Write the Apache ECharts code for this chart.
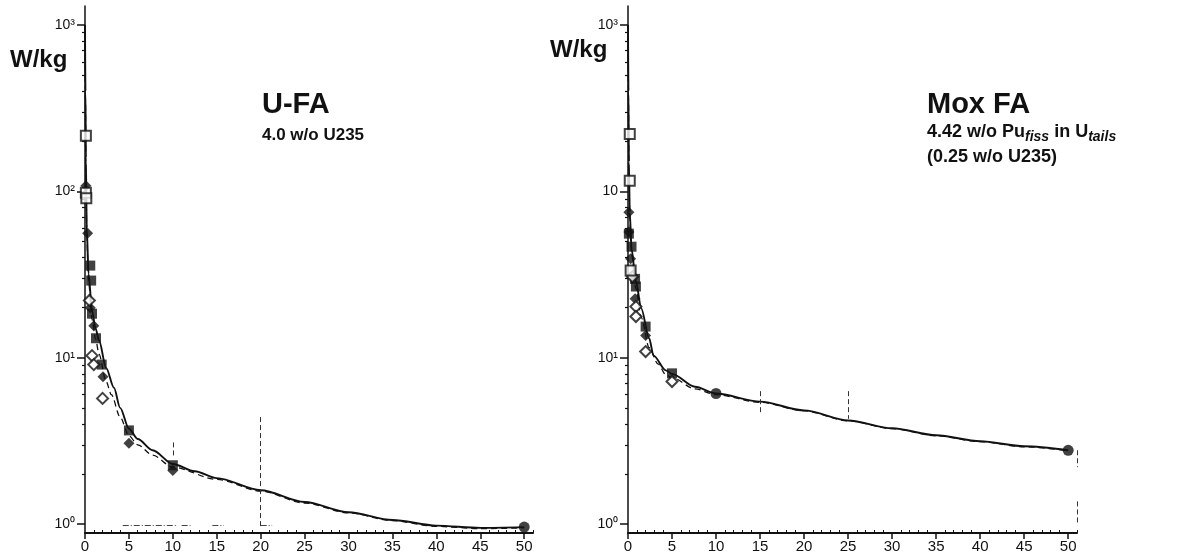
<!DOCTYPE html>
<html>
<head>
<meta charset="utf-8">
<script src="https://cdn.jsdelivr.net/npm/echarts@6/dist/echarts.min.js"></script>
<style>
html,body{margin:0;padding:0;background:#fff;}
#chart{width:1194px;height:557px;}
</style>
</head>
<body>
<div id="chart"></div>
<script>
// ---------- data ----------
const xTickValues = [0, 5, 10, 15, 20, 25, 30, 35, 40, 45, 50];
const xMinorValues = [1,2,3,4,6,7,8,9,11,12,13,14,16,17,18,19,21,22,23,24,26,27,28,29,31,32,33,34,36,37,38,39,41,42,43,44,46,47,48,49,51];
const yMajorValues = [1, 10, 100, 1000];
const yMinorValues = [2,3,4,5,6,7,8,9,20,30,40,50,60,70,80,90,200,300,400,500,600,700,800,900];
const yLabelsLeft = ['10⁰', '10¹', '10²', '10³'];
const yLabelsRight = ['10⁰', '10¹', '10', '10³'];

// U-FA (left)
const leftSolid = [[0,1000],[0.05,400],[0.1,160],[0.2,60],[0.4,32],[0.8,19.2],[1.2,15],[1.6,12.7],[2.4,8.7],[3.3,6.6],[4,5.0],[5,3.75],[6,3.25],[7.7,2.78],[10,2.3],[12.5,2.08],[15,1.89],[20,1.6],[25,1.36],[30,1.18],[35,1.06],[40,0.98],[45,0.95],[50,0.96]];
const leftDashed = [[0,1000],[0.05,350],[0.1,140],[0.2,55],[0.4,29],[0.8,17],[1.2,13],[1.6,10.5],[2.4,7.2],[3,6.0],[4,4.4],[5,3.4],[6,3.0],[7.7,2.6],[10,2.2],[15,1.86],[20,1.58],[25,1.34],[30,1.17],[35,1.05],[40,0.97],[45,0.94],[50,0.95]];
const leftFilledSquares = [[0.6,35.8],[0.7,29.1],[0.8,18.4],[1.25,13.1],[1.9,9.1],[5,3.66],[10,2.26]];
const leftFilledDiamonds = [[0.1,108],[0.3,56],[0.6,20],[1.0,15.6],[2.05,7.7],[5,3.06],[10,2.1]];
const leftOpenDiamonds = [[0.5,22.1],[0.8,10.3],[1.0,9.1],[2.0,5.7]];
const leftOpenSquares = [[0.1,216],[0.1,98],[0.15,91]];
const leftCircles = [[50,0.96]];
const leftVLines = [[20,4.4,0.95],[10,3.1,2.5]];
const leftHLines = [[4.3,10.5,0.99],[11,12,0.99],[14.5,15.8,0.99],[20,21.3,0.99]];

// Mox FA (right)
const rightSolid = [[0,1000],[0.05,400],[0.1,150],[0.2,75],[0.4,45],[0.9,28.7],[1.5,19.8],[2.4,13.1],[2.9,10.3],[4.3,8.4],[5,8.0],[7.6,6.7],[10,6.1],[15,5.45],[20,4.83],[25,4.2],[30,3.77],[35,3.42],[40,3.15],[45,2.94],[50,2.78]];
const rightDashed = [[0,1000],[0.05,380],[0.1,140],[0.2,70],[0.4,42],[0.9,26],[1.5,17.5],[2.4,11.5],[3.4,9.2],[4.3,7.9],[5,7.6],[7.6,6.5],[10,6.0],[15,5.4],[20,4.8],[25,4.18],[30,3.75],[35,3.4],[40,3.13],[45,2.92],[50,2.76]];
const rightFilledSquares = [[0.1,55.7],[0.4,46.5],[0.8,29.8],[0.9,26.8],[2.0,15.4],[5,8.06]];
const rightFilledDiamonds = [[0.1,75],[0.1,57],[0.3,39.3],[0.8,22.6],[2.0,13.6]];
const rightOpenDiamonds = [[0.5,30.7],[0.9,20.3],[0.9,17.7],[2.0,10.9],[5,7.2]];
const rightOpenSquares = [[0.2,221],[0.2,116],[0.3,33.4]];
const rightCircles = [[10,6.1],[50,2.78]];
const rightVLines = [[15,6.3,4.6],[25,6.3,4.3],[51,2.78,2.2],[51,1.37,0.99]];

// ---------- chart ----------
const INK = '#111';
const FONT = '"Liberation Sans", Arial, sans-serif';
const Y_MIN = 0.885, Y_MAX = 1300;
const grids = [
  {left: 85, top: 6, width: 448, height: 527},
  {left: 628, top: 6, width: 449, height: 527}
];

function xAxes(gi) {
  return [
    {
      type: 'value', gridIndex: gi, min: 0, max: 51, position: 'bottom',
      axisLine: {show: true, lineStyle: {color: INK, width: 2}},
      axisTick: {show: true, customValues: xTickValues, length: 6, lineStyle: {color: INK, width: 1.5}},
      axisLabel: {customValues: xTickValues, color: INK, fontSize: 15, fontFamily: FONT, margin: 6},
      splitLine: {show: false}
    },
    {
      type: 'value', gridIndex: gi, min: 0, max: 51, position: 'bottom',
      axisLine: {show: false},
      axisTick: {show: true, inside: true, customValues: xMinorValues, length: 3, lineStyle: {color: INK, width: 1}},
      axisLabel: {show: false},
      splitLine: {show: false}
    }
  ];
}
function yAxes(gi, labels) {
  return [
    {
      type: 'log', gridIndex: gi, min: Y_MIN, max: Y_MAX, logBase: 10, position: 'left',
      axisLine: {show: true, lineStyle: {color: INK, width: 1.5}},
      axisTick: {show: true, customValues: yMajorValues, length: 8, lineStyle: {color: INK, width: 1.5}},
      axisLabel: {
        customValues: yMajorValues, color: INK, fontSize: 14, fontFamily: FONT, margin: 10,
        formatter: function (v) { return labels[Math.round(Math.log10(v))]; }
      },
      splitLine: {show: false}
    },
    {
      type: 'log', gridIndex: gi, min: Y_MIN, max: Y_MAX, logBase: 10, position: 'left',
      axisLine: {show: false},
      axisTick: {show: true, customValues: yMinorValues, length: 3, lineStyle: {color: INK, width: 1.2}},
      axisLabel: {show: false},
      splitLine: {show: false}
    }
  ];
}

function lineSeries(gi, data, dashed) {
  return {
    type: 'line', xAxisIndex: gi * 2, yAxisIndex: gi * 2, data: data,
    smooth: 0.3, smoothMonotone: 'x', showSymbol: false, symbol: 'none',
    lineStyle: {color: INK, width: dashed ? 1.3 : 1.9, type: dashed ? [6, 4] : 'solid'},
    silent: true, z: 3
  };
}
function scatter(gi, data, symbol, filled, size) {
  return {
    type: 'scatter', xAxisIndex: gi * 2, yAxisIndex: gi * 2, data: data,
    symbol: symbol, symbolSize: size || 10,
    itemStyle: filled ? {color: INK} : {color: '#fff', borderColor: INK, borderWidth: 2},
    silent: true, z: 4
  };
}
function vlines(gi, arr) {
  return {
    type: 'line', xAxisIndex: gi * 2, yAxisIndex: gi * 2, data: [],
    markLine: {
      silent: true, symbol: 'none', label: {show: false},
      lineStyle: {color: '#333', width: 1, type: [5, 3]},
      data: arr.map(function (d) { return [{coord: [d[0], d[1]]}, {coord: [d[0], d[2]]}]; })
    }
  };
}
function hlines(gi, arr) {
  return {
    type: 'line', xAxisIndex: gi * 2, yAxisIndex: gi * 2, data: [],
    markLine: {
      silent: true, symbol: 'none', label: {show: false},
      lineStyle: {color: '#444', width: 1, type: [6, 2, 1, 2]},
      data: arr.map(function (d) { return [{coord: [d[0], d[2]]}, {coord: [d[1], d[2]]}]; })
    }
  };
}

const chart = echarts.init(document.getElementById('chart'), null, {renderer: 'canvas'});
chart.setOption({
  backgroundColor: '#fff',
  animation: false,
  grid: grids,
  xAxis: xAxes(0).concat(xAxes(1)),
  yAxis: yAxes(0, yLabelsLeft).concat(yAxes(1, yLabelsRight)),
  series: [
    lineSeries(0, leftSolid, false),
    lineSeries(0, leftDashed, true),
    scatter(0, leftFilledSquares, 'rect', true),
    scatter(0, leftFilledDiamonds, 'diamond', true, 11),
    scatter(0, leftOpenDiamonds, 'diamond', false, 11),
    scatter(0, leftOpenSquares, 'rect', false),
    scatter(0, leftCircles, 'circle', true, 11),
    vlines(0, leftVLines),
    hlines(0, leftHLines),
    lineSeries(1, rightSolid, false),
    lineSeries(1, rightDashed, true),
    scatter(1, rightFilledSquares, 'rect', true),
    scatter(1, rightFilledDiamonds, 'diamond', true, 11),
    scatter(1, rightOpenDiamonds, 'diamond', false, 11),
    scatter(1, rightOpenSquares, 'rect', false),
    scatter(1, rightCircles, 'circle', true, 11),
    vlines(1, rightVLines)
  ],
  graphic: [
    {type: 'text', left: 10, top: 48, style: {text: 'W/kg', font: 'bold 24px ' + FONT, fill: INK}},
    {type: 'text', left: 550, top: 38, style: {text: 'W/kg', font: 'bold 24px ' + FONT, fill: INK}},
    {type: 'text', left: 262, top: 90, style: {text: 'U-FA', font: 'bold 29px ' + FONT, fill: INK}},
    {type: 'text', left: 262, top: 127, style: {text: '4.0 w/o U235', font: 'bold 17px ' + FONT, fill: INK}},
    {type: 'text', left: 927, top: 90, style: {text: 'Mox FA', font: 'bold 29px ' + FONT, fill: INK}},
    {type: 'text', left: 927, top: 123, style: {
      text: '{a|4.42 w/o Pu}{s|fiss}{a| in U}{s|tails}',
      rich: {
        a: {fontSize: 18, fontWeight: 'bold', fontFamily: FONT, fill: INK, lineHeight: 24, verticalAlign: 'middle'},
        s: {fontSize: 14, fontWeight: 'bold', fontFamily: FONT, fontStyle: 'italic', fill: INK, lineHeight: 16, verticalAlign: 'bottom'}
      }
    }},
    {type: 'text', left: 927, top: 148, style: {text: '(0.25 w/o U235)', font: 'bold 18px ' + FONT, fill: INK}}
  ]
});
</script>
</body>
</html>
